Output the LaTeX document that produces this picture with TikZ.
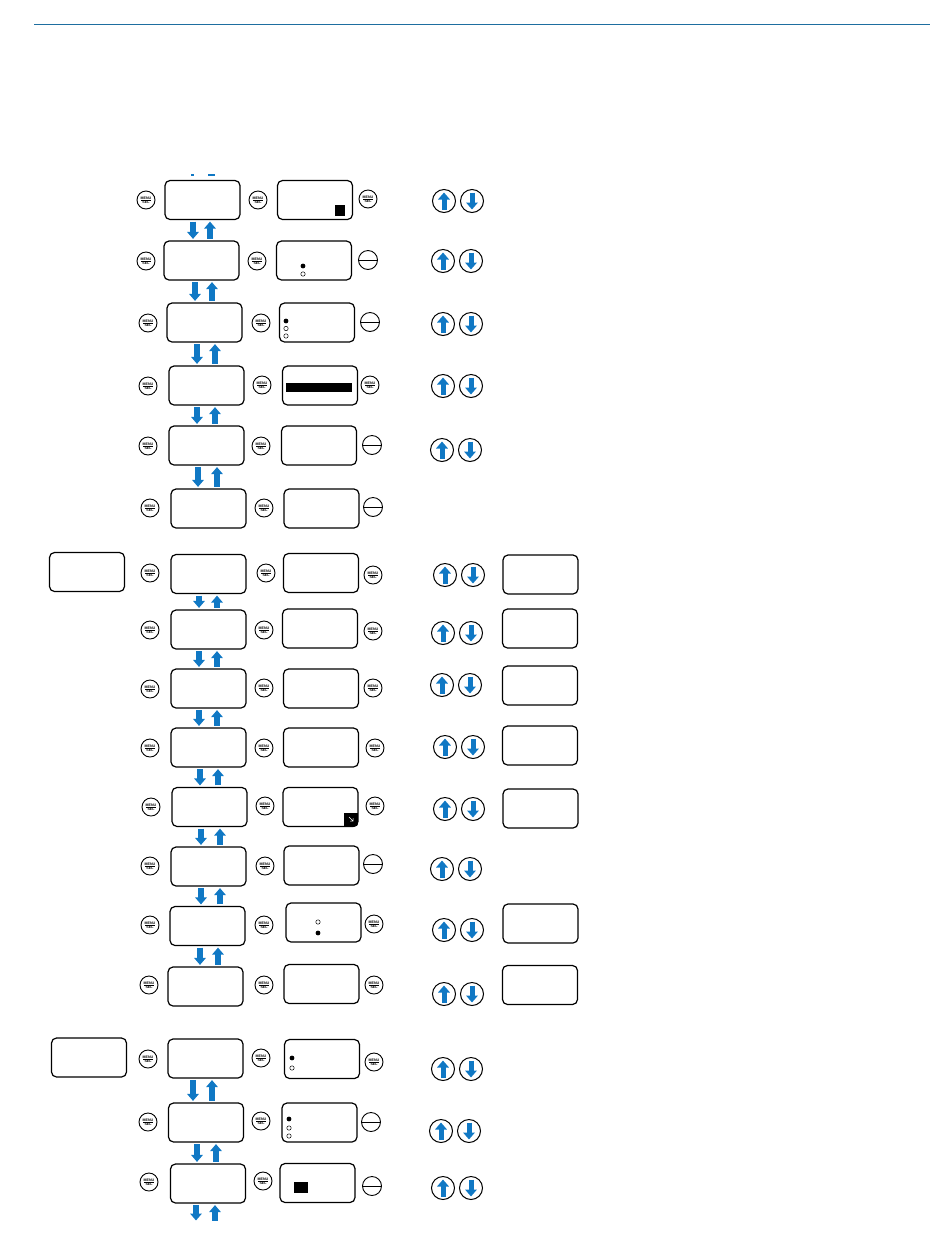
\documentclass[tikz,border=0pt]{standalone}
\usepackage{fontspec}
\setsansfont{Liberation Sans}
\usepackage{tikz}
\usetikzlibrary{arrows.meta,positioning}
\usepackage{xcolor}
\definecolor{arrowblue}{RGB}{16,120,196}
\definecolor{lineblue}{RGB}{30,110,160}

\begin{document}
\begin{tikzpicture}[x=1pt, y=-1pt,
    lcd/.style={draw, line width=1.2pt, rounded corners=5pt, minimum width=75pt, minimum height=39pt, inner sep=0pt},
    menubtn/.style={draw, circle, line width=0.9pt, minimum size=18pt, inner sep=0pt, align=center,
        font=\fontsize{3.6}{4.2}\selectfont\sffamily\bfseries,
        path picture={\draw[line width=0.4pt] ([xshift=-5pt]path picture bounding box.center) -- ([xshift=5pt]path picture bounding box.center);}},
    escbtn/.style={draw, circle, line width=0.9pt, minimum size=19pt, inner sep=0pt,
        path picture={\draw[line width=0.9pt] (path picture bounding box.west) -- (path picture bounding box.east);}},
    keyarrow/.style={arrowblue, line width=5pt, -{Triangle[width=11.5pt,length=7pt]}},
    upkey/.style={draw, circle, line width=1pt, minimum size=23pt, inner sep=0pt,
        path picture={\draw[keyarrow] ([yshift=-8.5pt]path picture bounding box.center) -- ([yshift=8.5pt]path picture bounding box.center);}},
    dnkey/.style={draw, circle, line width=1pt, minimum size=23pt, inner sep=0pt,
        path picture={\draw[keyarrow] ([yshift=8.5pt]path picture bounding box.center) -- ([yshift=-8.5pt]path picture bounding box.center);}},
    trans/.style={arrowblue, line width=5.5pt, -{Triangle[width=11.5pt,length=7pt]}, shorten <=1.5pt, shorten >=1.5pt},
    dotfull/.style={fill=black},
    dotopen/.style={draw=black, line width=0.5pt}]

    \useasboundingbox (0,0) rectangle (950,1254);

    % Header rule
    \draw[lineblue, line width=1pt] (34,24) -- (930,24);
    \draw[arrowblue, line width=1.2pt] (191,175) -- (194,175) (208,175) -- (215,175);

    % Displays
    \foreach \n/\x/\y in {s1a1/202.5/200, s1b1/315/200, s1a2/201.5/260.5, s1b2/314/260.5,
        s1a3/204.5/322.5, s1b3/317/322.5, s1a4/206.5/385.5, s1b4/320/385.5,
        s1a5/206.5/445.5, s1b5/319/445.5, s1a6/208.5/508.5, s1b6/321.5/508.5,
        s2l/87/572, s2a1/208.5/574, s2b1/321/573, s2r1/540.5/574.5,
        s2a2/208.5/629.5, s2b2/320/628.5, s2r2/540/628.5,
        s2a3/208.5/688.5, s2b3/321/688.5, s2r3/540/685.5,
        s2a4/208.5/747.5, s2b4/321/747.5, s2r4/540/745.5,
        s2a5/209.5/807, s2b5/320.5/807, s2r5/540.5/808.5,
        s2a6/208.5/866.5, s2b6/321.5/865.5,
        s2a7/207.5/926, s2b7/323.5/922.5, s2r7/540.5/923.5,
        s2a8/205.5/986.5, s2b8/321.5/984, s2r8/540/985,
        s3l/89/1057.5, s3a1/205.5/1058.5, s3b1/322/1059,
        s3a2/206/1122.5, s3b2/319.5/1122.5, s3a3/208/1183.5, s3b3/317.5/1183}
        \node[lcd] (\n) at (\x,\y) {};

    % MENU/SEL keys
    \foreach \n/\x/\y in {m11a/146/200, m11b/258/200, m11c/368/199, m12a/146/261, m12b/257/261,
        m13a/148/323, m13b/261/323, m14a/148/386, m14b/262/385, m14c/370/385,
        m15a/148/446, m15b/261/446, m16a/150/508, m16b/264/508,
        m21a/150/573, m21b/266/573, m21c/373/575, m22a/150/630, m22b/264/630, m22c/373/631,
        m23a/150/689, m23b/264/688, m23c/373/688, m24a/150/748, m24b/264/748, m24c/375/748,
        m25a/151/807, m25b/265/806, m25c/375/806, m26a/150/866, m26b/265/866,
        m27a/150/925, m27b/264/925, m27c/374/924, m28a/149/985, m28b/264/985, m28c/374/985,
        m31a/148/1059, m31b/261/1058, m31c/374/1062, m32a/148/1122, m32b/261/1121,
        m33a/149/1182, m33b/263/1181}
        \node[menubtn] (\n) at (\x,\y) {MENU\\SEL};

    % Escape keys
    \foreach \n/\x/\y in {e12/368/260, e13/370/322, e15/372/445, e16/373/507,
        e26/373/864, e32/371/1122, e33/372/1186}
        \node[escbtn] (\n) at (\x,\y) {};

    % Up / down keys
    \foreach \n/\x/\y in {k11/444/201, k12/443/261, k13/443/324, k14/443/386, k15/442/450,
        k21/445/575, k22/443/633, k23/442/685, k24/445/747, k25/445/809,
        k26/442/869, k27/444/930, k28/444/994, k31/443/1069, k32/441/1131, k33/443/1188} {
        \node[upkey] (u\n) at (\x,\y) {};
        \node[dnkey] (d\n) at (\x+28,\y) {};
    }

    % Screen contents
    \fill (335,205) rectangle (345,216);
    \fill[dotfull] (303,266) circle (2.4);
    \draw[dotopen] (303,274) circle (2.2);
    \fill[dotfull] (286,321) circle (2.4);
    \draw[dotopen] (286,328.5) circle (2.2) (286,336) circle (2.2);
    \fill (286,383) rectangle (352,392);
    \begin{scope}
        \clip[rounded corners=5pt] (s2b5.north west) rectangle (s2b5.south east);
        \fill (344,813) rectangle (s2b5.south east);
    \end{scope}
    \draw[white, line width=0.5pt] (349,817) -- (353,821) (353,818) -- (353,821) -- (350,821);
    \draw[dotopen] (318,922) circle (2.2);
    \fill[dotfull] (318,933) circle (2.4);
    \fill[dotfull] (292,1058) circle (2.4);
    \draw[dotopen] (292,1068) circle (2.2);
    \fill[dotfull] (289,1119) circle (2.4);
    \draw[dotopen] (289,1128) circle (2.2) (289,1136) circle (2.2);
    \fill (294,1182) rectangle (308,1193);

    % Up / down between menu levels
    \coordinate (s3end) at (208,1222);
    \foreach \a/\b/\xd/\xu in {s1a1/s1a2/193/210, s1a2/s1a3/195/212, s1a3/s1a4/197/215,
        s1a4/s1a5/197/215, s1a5/s1a6/198/217,
        s2a1/s2a2/199/217, s2a2/s2a3/199/217, s2a3/s2a4/199/217, s2a4/s2a5/200/218,
        s2a5/s2a6/201/220, s2a6/s2a7/201/220, s2a7/s2a8/200/218,
        s3a1/s3a2/193/212, s3a2/s3a3/197/216, s3a3/s3end/196/215} {
        \draw[trans] (\a.south -| \xd,0) -- (\b.north -| \xd,0);
        \draw[trans] (\b.north -| \xu,0) -- (\a.south -| \xu,0);
    }
\end{tikzpicture}
\end{document}
